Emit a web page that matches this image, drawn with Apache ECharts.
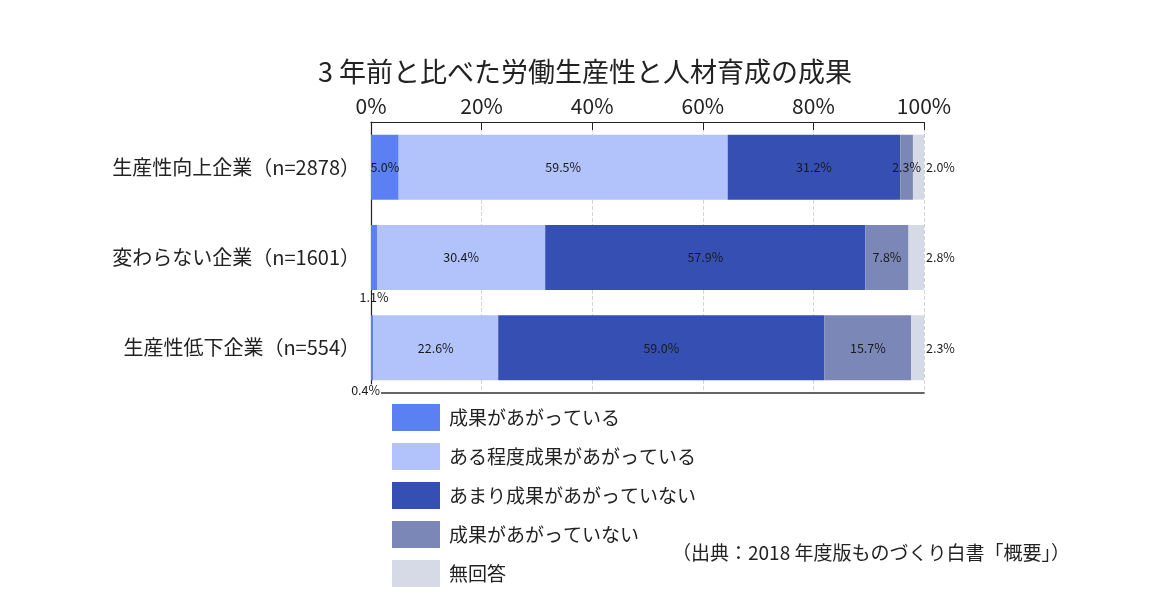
<!DOCTYPE html>
<html><head><meta charset="utf-8">
<script src="https://cdn.jsdelivr.net/npm/echarts@6/dist/echarts.min.js"></script>
<style>html,body{margin:0;padding:0;background:#fff}#c{width:1170px;height:613px}</style>
</head><body><div id="c"></div>
<script>
const categories = ['生産性向上企業（n=2878）', '変わらない企業（n=1601）', '生産性低下企業（n=554）'];
const seriesNames = ['成果があがっている', 'ある程度成果があがっている', 'あまり成果があがっていない', '成果があがっていない', '無回答'];
const s1 = [5.0, 1.1, 0.4];
const s2 = [59.5, 30.4, 22.6];
const s3 = [31.2, 57.9, 59.0];
const s4 = [2.3, 7.8, 15.7];
const s5 = [2.0, 2.8, 2.3];
const xTicks = [0, 20, 40, 60, 80, 100];
const colors = ['#5b80f4', '#b2c2fa', '#3550b2', '#7b87b6', '#d6d9e6'];
const title = '3 年前と比べた労働生産性と人材育成の成果';
const source = '（出典：2018 年度版ものづくり白書「概要」）';

const FONT = '"Noto Sans CJK JP", "Noto Sans", sans-serif';
const allData = [s1, s2, s3, s4, s5];

function mkData(arr, si) {
  return arr.map((v, i) => {
    const d = { value: v };
    if (si === 4) {
      d.label = { position: 'right', distance: 2 };
    }
    if (si === 0 && i === 1) {
      d.label = { position: 'bottom', distance: 1, offset: [0, 0] };
    }
    if (si === 0 && i === 2) {
      d.label = { position: 'bottom', distance: 4, offset: [-6, 0], backgroundColor: '#ffffff', padding: [0, 1, 0, 0] };
    }
    return d;
  });
}

const series = allData.map((arr, si) => ({
  name: seriesNames[si],
  type: 'bar',
  stack: 'total',
  barCategoryGap: '28%',
  itemStyle: { color: colors[si] },
  label: {
    show: true,
    position: 'inside',
    formatter: p => p.value.toFixed(1) + '%',
    fontFamily: FONT,
    fontSize: 12.5,
    color: '#1a1a1a'
  },
  data: mkData(arr, si)
}));

const chart = echarts.init(document.getElementById('c'));
chart.setOption({
  backgroundColor: '#ffffff',
  animation: false,
  title: {
    text: title,
    left: 'center',
    top: 53,
    textStyle: { fontFamily: FONT, fontSize: 27, fontWeight: 'normal', color: '#222' }
  },
  grid: { left: 371, right: 246, top: 122, bottom: 220 },
  xAxis: [{
    type: 'value',
    position: 'top',
    min: xTicks[0],
    max: xTicks[xTicks.length - 1],
    interval: 20,
    axisLine: { show: true, lineStyle: { color: '#222', width: 1.2 } },
    axisTick: { show: true, inside: true, length: 8, lineStyle: { color: '#222' } },
    axisLabel: { formatter: '{value}%', fontFamily: FONT, fontSize: 21, color: '#222', margin: 5 },
    splitLine: { show: true, lineStyle: { color: '#d4d4d4', type: 'dashed', width: 1 } }
  }, {
    type: 'value',
    position: 'bottom',
    min: 0, max: 100, interval: 20,
    axisLine: { show: true, lineStyle: { color: '#333', width: 1.5 } },
    axisTick: { show: false },
    axisLabel: { show: false },
    splitLine: { show: false }
  }],
  yAxis: {
    type: 'category',
    inverse: true,
    data: categories,
    axisLine: { show: true, lineStyle: { color: '#222', width: 1.2 } },
    axisTick: { show: false },
    axisLabel: { fontFamily: FONT, fontSize: 20, color: '#222', margin: 11 }
  },
  legend: {
    orient: 'vertical',
    left: 392,
    top: 404,
    padding: 0,
    itemWidth: 48,
    itemHeight: 27,
    itemGap: 12,
    icon: 'rect',
    data: seriesNames,
    textStyle: { fontFamily: FONT, fontSize: 19, color: '#222', padding: [0, 0, 0, 4] }
  },
  graphic: [{
    type: 'text',
    left: 672,
    top: 543,
    style: { text: source, fontFamily: FONT, fontSize: 19, fill: '#222' }
  }],
  series: series
});
</script>
</body></html>
